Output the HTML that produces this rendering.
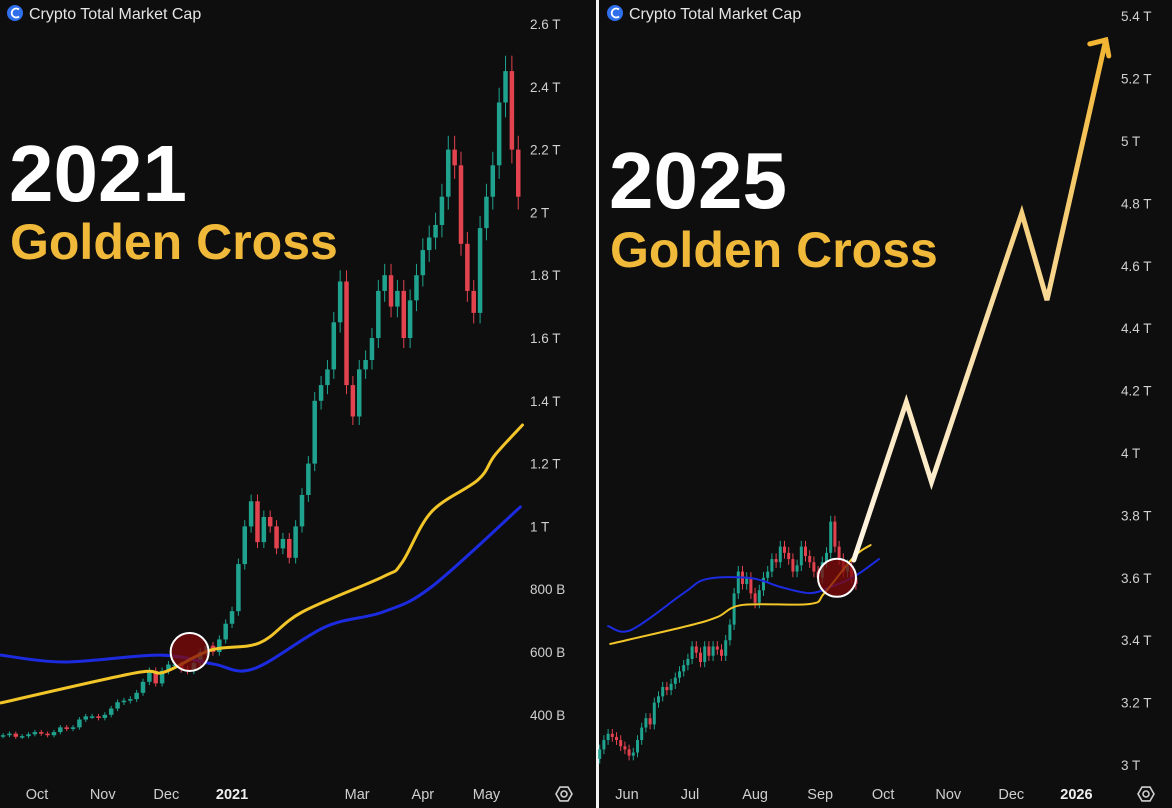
<!DOCTYPE html>
<html><head><meta charset="utf-8">
<style>
html,body{margin:0;padding:0;background:#0e0e0e;}
body{width:1172px;height:808px;overflow:hidden;position:relative;font-family:"Liberation Sans",sans-serif;}
svg{position:absolute;left:0;top:0;}
</style></head>
<body>
<svg id="chart" width="1172" height="808" viewBox="0 0 1172 808">
<defs>
<linearGradient id="arrowGrad" gradientUnits="userSpaceOnUse" x1="853" y1="560" x2="1105" y2="40">
<stop offset="0" stop-color="#fff6e6"/><stop offset="0.5" stop-color="#f8dca0"/><stop offset="1" stop-color="#f2b634"/>
</linearGradient>
</defs>
<rect x="0" y="0" width="1172" height="808" fill="#0e0e0e"/>
<rect x="596" y="0" width="3" height="808" fill="#f2f2f2"/>
<g id="left"></g>
<g id="right"></g>
</svg>
<script>
// ---------- LEFT (2021) DATA ----------
const leftStartDay = -16;
const leftStep = 3;
const leftCloses = [335,340,330,332,338,345,340,335,345,360,355,360,385,395,395,390,400,420,440,445,450,470,505,540,500,540,560,560,545,540,565,600,620,600,640,690,730,880,1000,1080,950,1030,1000,930,960,900,1000,1100,1200,1400,1450,1500,1650,1780,1450,1350,1500,1530,1600,1750,1800,1700,1750,1600,1720,1800,1880,1920,1960,2050,2200,2150,1900,1750,1680,1950,2050,2150,2350,2450,2200,2050];
const leftYellowDays = [-17,46,60,82,105,125,163,172,186,208,216,229];
const leftYellowVals = [438,533,536,606,629,727,839,883,1046,1148,1227,1323];
const leftBlueDays = [-17,13,58,83,102,136,163,186,228];
const leftBlueVals = [590,568,590,562,546,680,727,807,1062];
const leftTicks = [400,600,800,1000,1200,1400,1600,1800,2000,2200,2400,2600];
const leftTickLabels = ["400 B","600 B","800 B","1 T","1.2 T","1.4 T","1.6 T","1.8 T","2 T","2.2 T","2.4 T","2.6 T"];
const leftMonthDays = [0,31,61,92,151,182,212];
const leftMonthLabels = ["Oct","Nov","Dec","2021","Mar","Apr","May"];
const leftCrossDay = 72, leftCrossVal = 600;

// ---------- RIGHT (2025) DATA ----------
const rightStartDay = -13;
const rightStep = 2;
const rightCloses = [3.05,3.08,3.10,3.09,3.08,3.06,3.05,3.03,3.04,3.08,3.12,3.15,3.13,3.20,3.22,3.25,3.24,3.26,3.28,3.30,3.32,3.34,3.38,3.36,3.33,3.38,3.35,3.38,3.37,3.35,3.40,3.45,3.55,3.62,3.58,3.60,3.55,3.52,3.56,3.60,3.62,3.66,3.65,3.70,3.68,3.66,3.62,3.64,3.70,3.67,3.65,3.62,3.60,3.65,3.68,3.78,3.70,3.66,3.62,3.64,3.60,3.58];
const rightYellowDays = [-8,29,43,55,87,94,108,116];
const rightYellowVals = [3.388,3.446,3.474,3.513,3.516,3.551,3.667,3.705];
const rightBlueDays = [-9,2,27,38,59,73,87,97,108,120];
const rightBlueVals = [3.445,3.433,3.551,3.596,3.599,3.571,3.551,3.571,3.603,3.660];
const arrowDays = [108,133,145,188,200,228];
const arrowVals = [3.657,4.163,3.907,4.769,4.490,5.324];
const rightTicks = [3.0,3.2,3.4,3.6,3.8,4.0,4.2,4.4,4.6,4.8,5.0,5.2,5.4];
const rightTickLabels = ["3 T","3.2 T","3.4 T","3.6 T","3.8 T","4 T","4.2 T","4.4 T","4.6 T","4.8 T","5 T","5.2 T","5.4 T"];
const rightMonthDays = [0,30,61,92,122,153,183,214];
const rightMonthLabels = ["Jun","Jul","Aug","Sep","Oct","Nov","Dec","2026"];
const rightCrossDay = 100, rightCrossVal = 3.6;

const NS = "http://www.w3.org/2000/svg";
function mk(tag, attrs, parent){const e=document.createElementNS(NS,tag);for(const k in attrs)e.setAttribute(k,attrs[k]);parent.appendChild(e);return e;}

const lx = d => 37 + d*2.12;
const ly = v => 652 - (v-600)*0.314;
const rx = d => 627 + d*2.1;
const ry = v => 765 - (v-3)*312;

function smoothPath(pts){
  let d = `M${pts[0][0]},${pts[0][1]}`;
  for(let i=0;i<pts.length-1;i++){
    const p0=pts[Math.max(0,i-1)],p1=pts[i],p2=pts[i+1],p3=pts[Math.min(pts.length-1,i+2)];
    const c1x=p1[0]+(p2[0]-p0[0])/6,c1y=p1[1]+(p2[1]-p0[1])/6;
    const c2x=p2[0]-(p3[0]-p1[0])/6,c2y=p2[1]-(p3[1]-p1[1])/6;
    d+=` C${c1x},${c1y} ${c2x},${c2y} ${p2[0]},${p2[1]}`;
  }
  return d;
}

function drawPanel(g, cfg){
  const hdr = mk('g',{},g);
  
  
  const ic = mk('circle',{cx:cfg.hx+15,cy:13,r:8,fill:'#2f6fec'},hdr);
  
  
  mk('path',{d:`M${cfg.hx+19} 9.5 A4.5 4.5 0 1 0 ${cfg.hx+19} 16.5`,stroke:'#fff',fill:'none','stroke-width':1.8},hdr);
  const ht = mk('text',{x:cfg.hx+29,y:19,fill:'#e6e6e6','font-size':16},hdr);
  ht.textContent='Crypto Total Market Cap';
  
  
  const yr = mk('text',{x:cfg.hx+9,y:cfg.yearY,fill:'#ffffff','font-size':80,'font-weight':'bold'},g);
  yr.textContent=cfg.year;
  
  
  const gc = mk('text',{x:cfg.hx+10,y:cfg.gcY,fill:'#f0b93a','font-size':50,'font-weight':'bold'},g);
  gc.textContent='Golden Cross';
  
  
  cfg.ticks.forEach((t,i)=>{
    const e = mk('text',{x:cfg.tickX,y:cfg.Y(t)+5,fill:'#d0d0d0','font-size':13.5},g);
    e.textContent=cfg.tickLabels[i];
    
    
  });
  cfg.monthDays.forEach((d,i)=>{
    const lab = cfg.monthLabels[i];
    const bold = /^\d{4}$/.test(lab);
    const e = mk('text',{x:cfg.X(d),y:799,fill:bold?'#f0f0f0':'#cfcfcf','font-size':14.5,'text-anchor':'middle','font-weight':bold?'bold':'normal'},g);
    e.textContent=lab;
    
    
  });
  const gear = mk('g',{},g);
  
  
  mk('polygon',{points:[0,1,2,3,4,5].map(k=>{const a=Math.PI/3*k;return (cfg.gearX+8*Math.cos(a))+','+(794+8*Math.sin(a));}).join(' '),fill:'none',stroke:'#cfcfcf','stroke-width':1.6},gear);
  mk('circle',{cx:cfg.gearX,cy:794,r:3,fill:'none',stroke:'#cfcfcf','stroke-width':1.6},gear);
  const cg = mk('g',{},g);
  
  
  let prev = cfg.closes[0]*0.99;
  cfg.closes.forEach((c,i)=>{
    const d = cfg.start + i*cfg.step;
    const o = prev; prev = c;
    const up = c>=o;
    const col = up ? '#1fa38f' : '#e2434f';
    const x = cfg.X(d);
    const hi = Math.max(o,c)+cfg.wick*Math.max(o,c), lo = Math.min(o,c)-cfg.wick*Math.min(o,c);
    const w = mk('line',{x1:x,x2:x,y1:cfg.Y(hi),y2:cfg.Y(lo),stroke:col,'stroke-width':1},cg);
    
    
    const top = cfg.Y(Math.max(o,c)), bot = cfg.Y(Math.min(o,c));
    const b = mk('rect',{x:x-cfg.bw/2,y:top,width:cfg.bw,height:Math.max(1.5,bot-top),fill:col},cg);
    
    
  });
  const line = (days,vals,color,w,name)=>{
    const p = mk('path',{d:smoothPath(days.map((d,i)=>[cfg.X(d),cfg.Y(vals[i])])),fill:'none',stroke:color,'stroke-width':w,'stroke-linejoin':'round','stroke-linecap':'round'},g);
    
    
  };
  line(cfg.blueDays,cfg.blueVals,'#1c2be0',cfg.maW,'ma-200-line');
  line(cfg.yDays,cfg.yVals,'#f2c529',cfg.maW,'ma-50-line');
  const cc = mk('circle',{cx:cfg.X(cfg.crossDay),cy:cfg.Y(cfg.crossVal),r:19,fill:'rgba(130,10,10,0.75)',stroke:'#ffffff','stroke-width':2},g);
  
  
}

drawPanel(document.getElementById('left'),{hx:0,year:'2021',yearY:201,gcY:259,tickX:530,gearX:564,
  X:lx,Y:ly,ticks:leftTicks,tickLabels:leftTickLabels,monthDays:leftMonthDays,monthLabels:leftMonthLabels,
  closes:leftCloses,start:leftStartDay,step:leftStep,yDays:leftYellowDays,yVals:leftYellowVals,
  blueDays:leftBlueDays,blueVals:leftBlueVals,crossDay:leftCrossDay,crossVal:leftCrossVal,maW:3,wick:0.02,bw:4.5});

drawPanel(document.getElementById('right'),{hx:600,year:'2025',yearY:208,gcY:267,tickX:1121,gearX:1146,
  X:rx,Y:ry,ticks:rightTicks,tickLabels:rightTickLabels,monthDays:rightMonthDays,monthLabels:rightMonthLabels,
  closes:rightCloses,start:rightStartDay,step:rightStep,yDays:rightYellowDays,yVals:rightYellowVals,
  blueDays:rightBlueDays,blueVals:rightBlueVals,crossDay:rightCrossDay,crossVal:rightCrossVal,maW:2,wick:0.005,bw:3});

const rg = document.getElementById('right');
const ap = mk('polyline',{points:arrowDays.map((d,i)=>rx(d)+','+ry(arrowVals[i])).join(' '),fill:'none',stroke:'url(#arrowGrad)','stroke-width':5,'stroke-linejoin':'miter','stroke-linecap':'round'},rg);


const n = arrowDays.length;
const tx = rx(arrowDays[n-1]), ty = ry(arrowVals[n-1]);
const head = mk('polyline',{points:`${tx-16},${ty+4} ${tx},${ty} ${tx+3},${ty+16}`,fill:'none',stroke:'#f2b634','stroke-width':5,'stroke-linecap':'round','stroke-linejoin':'miter'},rg);


</script>
</body></html>
